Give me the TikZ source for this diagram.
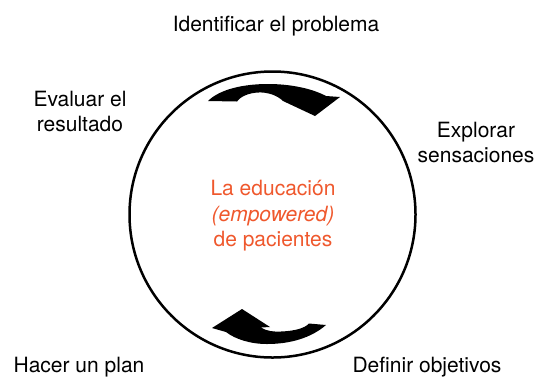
\documentclass[tikz,border=0pt]{standalone}
\usepackage{fontspec}
\setmainfont{TeX Gyre Heros}
\usetikzlibrary{positioning}

\definecolor{coreorange}{RGB}{239,88,45}

\tikzset{
  steplabel/.style={align=center,anchor=base,inner sep=0pt,
    font=\fontsize{21bp}{25bp}\selectfont},
  core/.style={align=center,text=coreorange,inner sep=0pt,
    font=\fontsize{21bp}{25.5bp}\selectfont},
  ring/.style={circle,draw,line width=2.5bp,minimum size=286bp,inner sep=0pt},
  turnarrow/.style={fill=black,draw=none}
}

\begin{document}
\begin{tikzpicture}[x=1bp,y=-1bp]
      \useasboundingbox (0,0) rectangle (535,376);

      \node[ring]  (ring) at (272.5,214.5) {};
      \node[core]  (core) at (273,216) {La educación\\\textit{(empowered)}\\de pacientes};

      \node[steplabel] (identify) at (276,31.7)  {Identificar el problema};
      \node[steplabel] (explore)  at (476,162.3) {Explorar\\sensaciones};
      \node[steplabel] (goals)    at (427,372.5) {Definir objetivos};
      \node[steplabel] (plan)     at (79,372.5)  {Hacer un plan};
      \node[steplabel] (evaluate) at (80,131.7)  {Evaluar el\\resultado};

      % upper turning arrow
      \fill[turnarrow] (208,101) .. controls (220,89) and (244,84) .. (268,84)
            .. controls (292,84) and (313,89) .. (326,96)
            -- (340,97) -- (315,116) -- (283,101)
            .. controls (277,95) and (267,92) .. (258,92.5)
            .. controls (248,93) and (240,97) .. (237,101.5) -- cycle;

      % lower turning arrow
      \fill[turnarrow] (326,325) .. controls (311,338) and (290,344) .. (267,344)
            .. controls (250,344) and (235,339) .. (226,332)
            -- (212,328) -- (242,309) -- (270,327) -- (261,327.5)
            .. controls (266,331) and (274,332) .. (281,331.5)
            .. controls (295,331) and (305,328) .. (309,323.5) -- cycle;
\end{tikzpicture}
\end{document}
